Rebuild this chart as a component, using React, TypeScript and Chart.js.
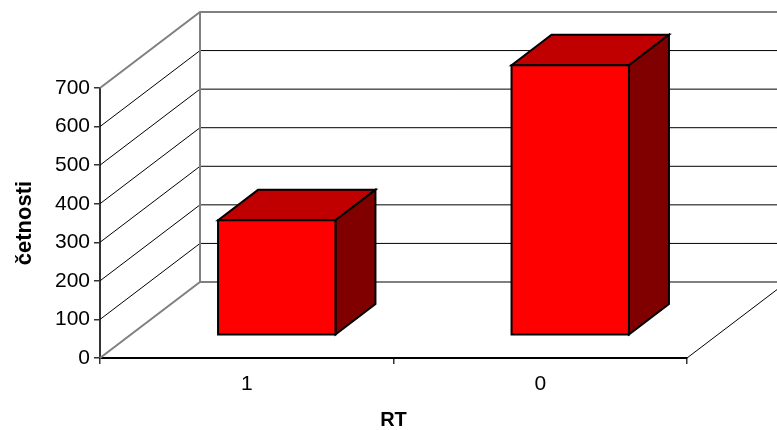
import React, { useEffect, useRef } from 'react';
import { Chart, registerables } from 'chart.js';

Chart.register(...registerables);

const categories: string[] = ['1', '0'];
const frequencies: number[] = [298, 700];
const yTicks: number[] = [0, 100, 200, 300, 400, 500, 600, 700];
const xTitle = 'RT';
const yTitle = 'četnosti';

const FONT = 'Arial, "Liberation Sans", sans-serif';
const DEPTH_X = 100;
const DEPTH_Y = -76;
const BAR_FRONT = 0.3;
const BAR_BACK = 0.7;

const wall3d = {
  id: 'wall3d',
  beforeDatasetsDraw(chart: any) {
    const { ctx, chartArea, scales } = chart;
    const { left, right } = chartArea;
    const y = scales.y;
    const y0 = y.getPixelForValue(yTicks[0]);
    const yTop = y.getPixelForValue(yTicks[yTicks.length - 1]);
    ctx.save();
    ctx.lineCap = 'butt';
    yTicks.forEach((v, i) => {
      const py = y.getPixelForValue(v);
      const edge = i === 0 || i === yTicks.length - 1;
      ctx.strokeStyle = edge ? '#808080' : '#000000';
      ctx.lineWidth = edge ? 2 : 1;
      ctx.beginPath();
      ctx.moveTo(left, py);
      ctx.lineTo(left + DEPTH_X, py + DEPTH_Y);
      ctx.lineTo(right + DEPTH_X, py + DEPTH_Y);
      ctx.stroke();
    });
    ctx.strokeStyle = '#808080';
    ctx.lineWidth = 2;
    ctx.beginPath();
    ctx.moveTo(left + DEPTH_X, y0 + DEPTH_Y);
    ctx.lineTo(left + DEPTH_X, yTop + DEPTH_Y);
    ctx.stroke();
    ctx.strokeStyle = '#000000';
    ctx.lineWidth = 1;
    ctx.beginPath();
    ctx.moveTo(right, y0);
    ctx.lineTo(right + DEPTH_X, y0 + DEPTH_Y);
    ctx.stroke();
    ctx.restore();
  },
  afterDatasetsDraw(chart: any) {
    const { ctx } = chart;
    const meta = chart.getDatasetMeta(0);
    const fx = DEPTH_X * BAR_FRONT;
    const fy = DEPTH_Y * BAR_FRONT;
    const bx = DEPTH_X * (BAR_BACK - BAR_FRONT);
    const by = DEPTH_Y * (BAR_BACK - BAR_FRONT);
    ctx.save();
    ctx.lineJoin = 'miter';
    ctx.lineWidth = 2;
    ctx.strokeStyle = '#000000';
    meta.data.forEach((el: any) => {
      const { x, y, base, width } = el.getProps(['x', 'y', 'base', 'width'], true);
      const L = x - width / 2 + fx;
      const R = x + width / 2 + fx;
      const T = y + fy;
      const B = base + fy;
      ctx.fillStyle = '#C00000';
      ctx.beginPath();
      ctx.moveTo(L, T);
      ctx.lineTo(L + bx, T + by);
      ctx.lineTo(R + bx, T + by);
      ctx.lineTo(R, T);
      ctx.closePath();
      ctx.fill();
      ctx.stroke();
      ctx.fillStyle = '#800000';
      ctx.beginPath();
      ctx.moveTo(R, T);
      ctx.lineTo(R + bx, T + by);
      ctx.lineTo(R + bx, B + by);
      ctx.lineTo(R, B);
      ctx.closePath();
      ctx.fill();
      ctx.stroke();
      ctx.fillStyle = '#FF0000';
      ctx.beginPath();
      ctx.rect(L, T, R - L, B - T);
      ctx.fill();
      ctx.stroke();
    });
    ctx.restore();
  },
};

export default function App() {
  const ref = useRef<HTMLCanvasElement>(null);
  useEffect(() => {
    if (!ref.current) return;
    const chart = new Chart(ref.current, {
      type: 'bar',
      data: {
        labels: categories,
        datasets: [
          {
            label: yTitle,
            data: frequencies,
            backgroundColor: 'rgba(0,0,0,0)',
            borderWidth: 0,
            barPercentage: 0.4,
            categoryPercentage: 1,
          },
        ],
      },
      options: {
        responsive: false,
        animation: false,
        events: [],
        layout: { padding: { left: 0, top: 88, right: 90, bottom: 0 } },
        plugins: {
          legend: { display: false },
          tooltip: { enabled: false },
          title: { display: false },
        },
        scales: {
          x: {
            type: 'category',
            afterFit: (s: any) => {
              s.height = 72;
            },
            grid: {
              offset: true,
              drawOnChartArea: false,
              drawTicks: true,
              tickLength: 6,
              color: '#333333',
              lineWidth: 1.5,
            },
            border: { display: true, color: '#000000', width: 2 },
            ticks: {
              color: '#000000',
              font: { family: FONT, size: 21 },
              padding: 8,
              maxRotation: 0,
            },
            title: {
              display: true,
              text: xTitle,
              color: '#000000',
              font: { family: FONT, size: 20, weight: 'bold', lineHeight: 1 },
              padding: { top: 0, bottom: 0 },
            },
          },
          y: {
            min: 0,
            max: 700,
            afterFit: (s: any) => {
              s.width = 100;
            },
            afterBuildTicks: (s: any) => {
              s.ticks = yTicks.map((v) => ({ value: v }));
            },
            grid: {
              drawOnChartArea: false,
              drawTicks: true,
              tickLength: 6,
              color: '#333333',
              lineWidth: 1.5,
            },
            border: { display: true, color: '#333333', width: 2 },
            ticks: {
              color: '#000000',
              font: { family: FONT, size: 21 },
              padding: 4,
            },
            title: {
              display: true,
              text: yTitle,
              color: '#000000',
              font: { family: FONT, size: 22, weight: 'bold', lineHeight: 1 },
              padding: { top: 14, bottom: 0 },
            },
          },
        },
      },
      plugins: [wall3d],
    });
    return () => chart.destroy();
  }, []);
  return (
    <div style={{ position: 'absolute', left: 0, top: 0, width: 777, height: 430, background: '#ffffff' }}>
      <canvas ref={ref} width={777} height={430} style={{ display: 'block' }} />
    </div>
  );
}
